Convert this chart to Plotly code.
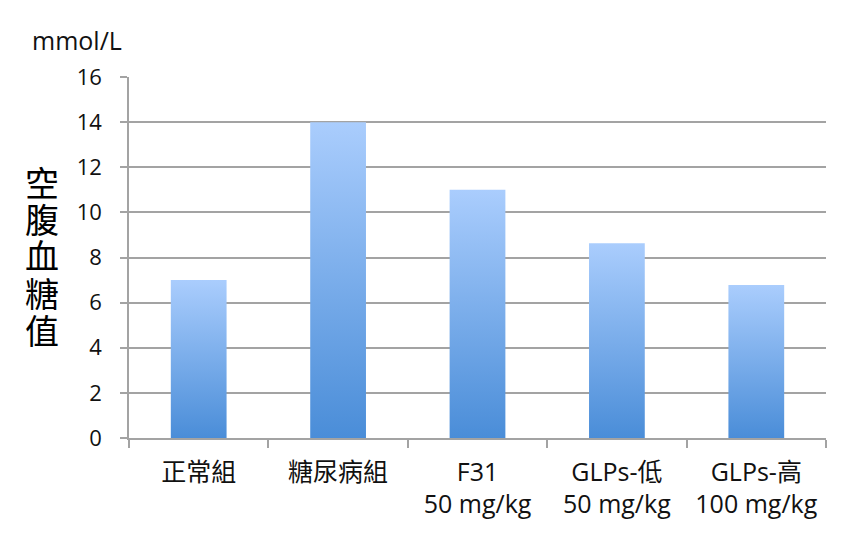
import plotly.graph_objects as go

categories = ["正常組", "糖尿病組", "F31<br>50 mg/kg", "GLPs-低<br>50 mg/kg", "GLPs-高<br>100 mg/kg"]
values = [7.0, 14.0, 11.0, 8.63, 6.78]
y_ticks = [0, 2, 4, 6, 8, 10, 12, 14, 16]
unit_label = "mmol/L"
y_title_chars = list("空腹血糖值")

BAR_W = 0.4
TOP_COLOR = "#aacdfd"
BOT_COLOR = "#4a8dd8"
GRID = "#a3a3a3"
FONT = "'Open Sans', 'Noto Sans CJK TC', sans-serif"
CJK = "'Noto Sans CJK TC', sans-serif"

# page body has an 8px margin, so figure is offset by 8px
L, T, PW, PH = 121, 69, 697, 361

fig = go.Figure()
for i, v in enumerate(values):
    x0, x1 = i - BAR_W / 2, i + BAR_W / 2
    fig.add_trace(go.Scatter(
        x=[x0, x1, x1, x0, x0], y=[0, 0, v, v, 0],
        mode="lines", line=dict(width=0), fill="toself",
        fillgradient=dict(type="vertical", colorscale=[[0, BOT_COLOR], [1, TOP_COLOR]]),
        hoverinfo="skip", showlegend=False,
    ))

fig.update_layout(
    width=842, height=539,
    margin=dict(l=L, r=24, t=T, b=109),
    paper_bgcolor="white", plot_bgcolor="white",
    font=dict(family=FONT, size=20, color="#111111"),
    showlegend=False,
)
fig.update_xaxes(
    range=[-0.5, len(values) - 0.5],
    tickmode="array", tickvals=list(range(len(categories))), ticktext=categories,
    ticks="", showgrid=False, zeroline=False,
    showline=True, linecolor=GRID, linewidth=1.5,
    tickfont=dict(size=25, family=FONT, color="#111111"), ticklabelstandoff=11,
    minor=dict(tickmode="linear", tick0=-0.5, dtick=1, ticks="outside",
               ticklen=8, tickcolor=GRID, tickwidth=1.5, showgrid=False),
    fixedrange=True, automargin=False,
)
fig.update_yaxes(
    range=[0, 16], tickmode="array", tickvals=y_ticks,
    ticks="outside", ticklen=7, tickcolor=GRID, tickwidth=1.5,
    showgrid=True, gridcolor=GRID, gridwidth=1.5,
    zeroline=False, showline=True, linecolor=GRID, linewidth=1.5,
    tickfont=dict(size=22, family=FONT, color="#111111"), ticklabelstandoff=14,
    fixedrange=True, automargin=False,
)

fig.add_annotation(
    text=unit_label, xref="paper", yref="paper",
    x=(22 - L) / PW, y=1 + (T - 32) / PH, xanchor="left", yanchor="middle",
    showarrow=False, font=dict(size=25, family=FONT, color="#111111"),
)
for k, ch in enumerate(y_title_chars):
    fig.add_annotation(
        text=ch, xref="paper", yref="paper",
        x=(34 - L) / PW, y=1 - (173 - T + 37 * k) / PH,
        xanchor="center", yanchor="middle", showarrow=False,
        height=35, valign="middle",
        font=dict(size=34, family=CJK, color="#000000"),
    )

fig.write_html("out.html")
